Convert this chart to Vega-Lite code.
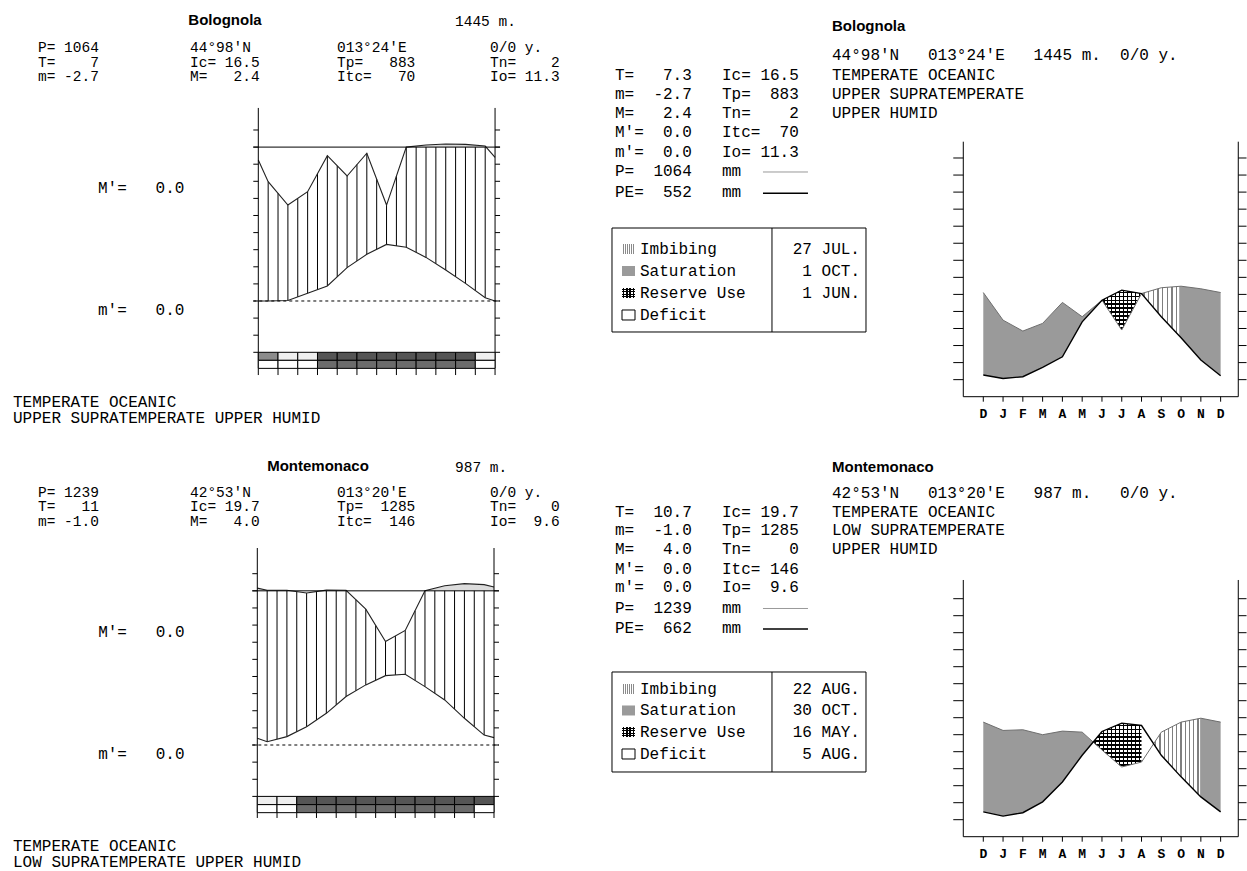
{
"$schema": "https://vega.github.io/schema/vega-lite/v6.json",
"padding": 0,
"spacing": 0,
"background": "white",
"config": {"view": {"stroke": null}, "axis": {"disable": true}, "legend": {"disable": true}},
"datasets": {
"ticks_a": [{"v":-30},{"v":-20},{"v":-10},{"v":0},{"v":10},{"v":20},{"v":30},{"v":40},{"v":50},{"v":60},{"v":70},{"v":80},{"v":90},{"v":100}],
"ticks_b": [{"v":10},{"v":20},{"v":30},{"v":40},{"v":50},{"v":60},{"v":70},{"v":80},{"v":90},{"v":100},{"v":110},{"v":120},{"v":130},{"v":140}],
"months13": [{"k":0,"lab":"D"},{"k":1,"lab":"J"},{"k":2,"lab":"F"},{"k":3,"lab":"M"},{"k":4,"lab":"A"},{"k":5,"lab":"M"},{"k":6,"lab":"J"},{"k":7,"lab":"J"},{"k":8,"lab":"A"},{"k":9,"lab":"S"},{"k":10,"lab":"O"},{"k":11,"lab":"N"},{"k":12,"lab":"D"}],
"edges": [{"k":0},{"k":12}],
"edges_r": [{"k":-1.011},{"k":12.892}],
"tl_curve": [{"k":0,"top":82.5,"bot":0},{"k":0.5,"top":69.8,"bot":0},{"k":1.5,"top":56.1,"bot":0.3},{"k":2.5,"top":63.9,"bot":4.5},{"k":3.5,"top":85.0,"bot":8.8},{"k":4.5,"top":73.1,"bot":19.5},{"k":5.5,"top":86.4,"bot":27.3},{"k":6.5,"top":56.1,"bot":33.1},{"k":7.5,"top":90.0,"bot":31.4},{"k":8.5,"top":91.2,"bot":25.5},{"k":9.5,"top":91.8,"bot":18.1},{"k":10.5,"top":91.6,"bot":10.3},{"k":11.5,"top":90.6,"bot":1.9},{"k":12,"top":84.0,"bot":0}],
"tl_over": [{"k":7.5,"v":90.0,"seg":"a"},{"k":8.5,"v":91.2,"seg":"a"},{"k":9.5,"v":91.8,"seg":"a"},{"k":10.5,"v":91.6,"seg":"a"},{"k":11.5,"v":90.6,"seg":"a"},{"k":11.55,"v":90,"seg":"a"}],
"tl_hatch": [{"k":0.5,"lo":0,"hi":69.8},{"k":1,"lo":0.15,"hi":63.0},{"k":1.5,"lo":0.3,"hi":56.1},{"k":2,"lo":2.4,"hi":60.0},{"k":2.5,"lo":4.5,"hi":63.9},{"k":3,"lo":6.6,"hi":74.5},{"k":3.5,"lo":8.8,"hi":85.0},{"k":4,"lo":14.1,"hi":79.0},{"k":4.5,"lo":19.5,"hi":73.1},{"k":5,"lo":23.4,"hi":79.8},{"k":5.5,"lo":27.3,"hi":86.4},{"k":6,"lo":30.2,"hi":71.2},{"k":6.5,"lo":33.1,"hi":56.1},{"k":7,"lo":32.2,"hi":73.0},{"k":7.5,"lo":31.4,"hi":90},{"k":8,"lo":28.4,"hi":90},{"k":8.5,"lo":25.5,"hi":90},{"k":9,"lo":21.8,"hi":90},{"k":9.5,"lo":18.1,"hi":90},{"k":10,"lo":14.2,"hi":90},{"k":10.5,"lo":10.3,"hi":90},{"k":11,"lo":6.1,"hi":90},{"k":11.5,"lo":1.9,"hi":90}],
"tl_strip": [
{"start":0,"end":1,"band":"upper","state":"grey"},{"start":1,"end":2,"band":"upper","state":"light"},{"start":2,"end":3,"band":"upper","state":"light"},{"start":3,"end":4,"band":"upper","state":"dark"},{"start":4,"end":5,"band":"upper","state":"dark"},{"start":5,"end":6,"band":"upper","state":"dark"},{"start":6,"end":7,"band":"upper","state":"dark"},{"start":7,"end":8,"band":"upper","state":"dark"},{"start":8,"end":9,"band":"upper","state":"dark"},{"start":9,"end":10,"band":"upper","state":"dark"},{"start":10,"end":11,"band":"upper","state":"dark"},{"start":11,"end":12,"band":"upper","state":"light"},
{"start":0,"end":1,"band":"lower","state":"none"},{"start":1,"end":2,"band":"lower","state":"none"},{"start":2,"end":3,"band":"lower","state":"none"},{"start":3,"end":4,"band":"lower","state":"mid"},{"start":4,"end":5,"band":"lower","state":"mid"},{"start":5,"end":6,"band":"lower","state":"mid"},{"start":6,"end":7,"band":"lower","state":"mid"},{"start":7,"end":8,"band":"lower","state":"mid"},{"start":8,"end":9,"band":"lower","state":"mid"},{"start":9,"end":10,"band":"lower","state":"mid"},{"start":10,"end":11,"band":"lower","state":"mid"},{"start":11,"end":12,"band":"lower","state":"none"}],
"tl_head": [
{"k":-11.166,"v":147.95,"t":"P=\u00a01064"},{"k":-11.166,"v":139.47,"t":"T=\u00a0\u00a0\u00a0\u00a07"},{"k":-11.166,"v":130.99,"t":"m=\u00a0-2.7"},
{"k":-3.462,"v":147.95,"t":"44°98'N"},{"k":-3.462,"v":139.47,"t":"Ic=\u00a016.5"},{"k":-3.462,"v":130.99,"t":"M=\u00a0\u00a0\u00a02.4"},
{"k":3.989,"v":147.95,"t":"013°24'E"},{"k":3.989,"v":139.47,"t":"Tp=\u00a0\u00a0\u00a0883"},{"k":3.989,"v":130.99,"t":"Itc=\u00a0\u00a0\u00a070"},
{"k":11.743,"v":147.95,"t":"0/0\u00a0y."},{"k":11.743,"v":139.47,"t":"Tn=\u00a0\u00a0\u00a0\u00a02"},{"k":11.743,"v":130.99,"t":"Io=\u00a011.3"},
{"k":9.97,"v":163.16,"t":"1445\u00a0m."}],
"tl_text": [
{"k":-8.125,"v":66.08,"t":"M'=\u00a0\u00a0\u00a00.0"},{"k":-8.125,"v":-5.26,"t":"m'=\u00a0\u00a0\u00a00.0"},
{"k":-12.433,"v":-59.06,"t":"TEMPERATE\u00a0OCEANIC"},{"k":-12.433,"v":-68.42,"t":"UPPER\u00a0SUPRATEMPERATE\u00a0UPPER\u00a0HUMID"}],
"bl_curve": [{"k":0,"top":91.6,"bot":3.9},{"k":0.5,"top":90.3,"bot":1.9},{"k":1.5,"top":90.3,"bot":4.9},{"k":2.5,"top":88.7,"bot":10.7},{"k":3.5,"top":90.4,"bot":18.5},{"k":4.5,"top":90.3,"bot":28.3},{"k":5.5,"top":79.3,"bot":35.1},{"k":6.5,"top":60.4,"bot":40.5},{"k":7.5,"top":66.9,"bot":41.3},{"k":8.5,"top":90.0,"bot":34.1},{"k":9.5,"top":93.0,"bot":26.3},{"k":10.5,"top":94.2,"bot":15.6},{"k":11.5,"top":93.6,"bot":5.8},{"k":12,"top":92.2,"bot":4.3}],
"bl_over": [{"k":0,"v":91.6,"seg":"a"},{"k":0.5,"v":90.3,"seg":"a"},{"k":1.5,"v":90.3,"seg":"a"},{"k":1.7,"v":90,"seg":"a"},{"k":8.5,"v":90.0,"seg":"b"},{"k":9.5,"v":93.0,"seg":"b"},{"k":10.5,"v":94.2,"seg":"b"},{"k":11.5,"v":93.6,"seg":"b"},{"k":12,"v":92.2,"seg":"b"}],
"bl_hatch": [{"k":0.5,"lo":1.9,"hi":90},{"k":1,"lo":3.4,"hi":90},{"k":1.5,"lo":4.9,"hi":90},{"k":2,"lo":7.8,"hi":89.5},{"k":2.5,"lo":10.7,"hi":88.7},{"k":3,"lo":14.6,"hi":89.5},{"k":3.5,"lo":18.5,"hi":90},{"k":4,"lo":23.4,"hi":90},{"k":4.5,"lo":28.3,"hi":90},{"k":5,"lo":31.7,"hi":84.8},{"k":5.5,"lo":35.1,"hi":79.3},{"k":6,"lo":37.8,"hi":69.8},{"k":6.5,"lo":40.5,"hi":60.4},{"k":7,"lo":40.9,"hi":63.6},{"k":7.5,"lo":41.3,"hi":66.9},{"k":8,"lo":37.7,"hi":78.4},{"k":8.5,"lo":34.1,"hi":90},{"k":9,"lo":30.2,"hi":90},{"k":9.5,"lo":26.3,"hi":90},{"k":10,"lo":21.0,"hi":90},{"k":10.5,"lo":15.6,"hi":90},{"k":11,"lo":10.7,"hi":90},{"k":11.5,"lo":5.8,"hi":90}],
"bl_strip": [
{"start":0,"end":1,"band":"upper","state":"light"},{"start":1,"end":2,"band":"upper","state":"light"},{"start":2,"end":3,"band":"upper","state":"dark"},{"start":3,"end":4,"band":"upper","state":"dark"},{"start":4,"end":5,"band":"upper","state":"dark"},{"start":5,"end":6,"band":"upper","state":"dark"},{"start":6,"end":7,"band":"upper","state":"dark"},{"start":7,"end":8,"band":"upper","state":"dark"},{"start":8,"end":9,"band":"upper","state":"dark"},{"start":9,"end":10,"band":"upper","state":"dark"},{"start":10,"end":11,"band":"upper","state":"dark"},{"start":11,"end":12,"band":"upper","state":"dark"},
{"start":0,"end":1,"band":"lower","state":"none"},{"start":1,"end":2,"band":"lower","state":"none"},{"start":2,"end":3,"band":"lower","state":"mid"},{"start":3,"end":4,"band":"lower","state":"mid"},{"start":4,"end":5,"band":"lower","state":"mid"},{"start":5,"end":6,"band":"lower","state":"mid"},{"start":6,"end":7,"band":"lower","state":"mid"},{"start":7,"end":8,"band":"lower","state":"mid"},{"start":8,"end":9,"band":"lower","state":"mid"},{"start":9,"end":10,"band":"lower","state":"mid"},{"start":10,"end":11,"band":"lower","state":"mid"},{"start":11,"end":12,"band":"lower","state":"none"}],
"bl_head": [
{"k":-11.118,"v":147.11,"t":"P=\u00a01239"},{"k":-11.118,"v":138.65,"t":"T=\u00a0\u00a0\u00a011"},{"k":-11.118,"v":130.18,"t":"m=\u00a0-1.0"},
{"k":-3.412,"v":147.11,"t":"42°53'N"},{"k":-3.412,"v":138.65,"t":"Ic=\u00a019.7"},{"k":-3.412,"v":130.18,"t":"M=\u00a0\u00a0\u00a04.0"},
{"k":4.041,"v":147.11,"t":"013°20'E"},{"k":4.041,"v":138.65,"t":"Tp=\u00a0\u00a01285"},{"k":4.041,"v":130.18,"t":"Itc=\u00a0\u00a0146"},
{"k":11.797,"v":147.11,"t":"0/0\u00a0y."},{"k":11.797,"v":138.65,"t":"Tn=\u00a0\u00a0\u00a0\u00a00"},{"k":11.797,"v":130.18,"t":"Io=\u00a0\u00a09.6"},
{"k":10.023,"v":161.7,"t":"987\u00a0m."}],
"bl_text": [
{"k":-8.07,"v":65.97,"t":"M'=\u00a0\u00a0\u00a00.0"},{"k":-8.07,"v":-5.25,"t":"m'=\u00a0\u00a0\u00a00.0"},
{"k":-12.385,"v":-58.96,"t":"TEMPERATE\u00a0OCEANIC"},{"k":-12.385,"v":-68.3,"t":"LOW\u00a0SUPRATEMPERATE\u00a0UPPER\u00a0HUMID"}],
"tr_pp": [{"k":0,"P":61.1,"PE":12.7},{"k":1,"P":44.9,"PE":10.7},{"k":2,"P":38.5,"PE":11.7},{"k":3,"P":43.0,"PE":17.2},{"k":4,"P":55.3,"PE":23.4},{"k":5,"P":46.9,"PE":43.9},{"k":6,"P":56.6,"PE":56.6},{"k":7,"P":39.1,"PE":62.5},{"k":8,"P":60.5,"PE":60.5},{"k":9,"P":63.9,"PE":46.9},{"k":10,"P":64.8,"PE":34.6},{"k":11,"P":63.3,"PE":21.5},{"k":12,"P":61.1,"PE":12.3}],
"tr_sat": [{"k":0,"P":61.1,"PE":12.7,"seg":"a"},{"k":1,"P":44.9,"PE":10.7,"seg":"a"},{"k":2,"P":38.5,"PE":11.7,"seg":"a"},{"k":3,"P":43.0,"PE":17.2,"seg":"a"},{"k":4,"P":55.3,"PE":23.4,"seg":"a"},{"k":5,"P":46.9,"PE":43.9,"seg":"a"},{"k":6,"P":56.6,"PE":56.6,"seg":"a"},{"k":9.9,"P":64.7,"PE":35.8,"seg":"b"},{"k":10,"P":64.8,"PE":34.6,"seg":"b"},{"k":11,"P":63.3,"PE":21.5,"seg":"b"},{"k":12,"P":61.1,"PE":12.3,"seg":"b"}],
"tr_res": [{"k":6,"P":56.6,"PE":56.6},{"k":7,"P":39.1,"PE":62.5},{"k":8,"P":60.5,"PE":60.5}],
"tr_imb": [{"k":8,"P":60.5,"PE":60.5},{"k":9,"P":63.9,"PE":46.9},{"k":9.9,"P":64.7,"PE":35.8}],
"tr_text": [
{"k":-7.649,"v":200.41,"t":"44°98'N\u00a0\u00a0\u00a0013°24'E\u00a0\u00a0\u00a01445\u00a0m.\u00a0\u00a00/0\u00a0y."},
{"k":-7.649,"v":188.68,"t":"TEMPERATE\u00a0OCEANIC"},{"k":-7.649,"v":177.54,"t":"UPPER\u00a0SUPRATEMPERATE"},{"k":-7.649,"v":166.39,"t":"UPPER\u00a0HUMID"},
{"k":-18.62,"v":188.68,"t":"T=\u00a0\u00a0\u00a07.3"},{"k":-18.62,"v":177.54,"t":"m=\u00a0\u00a0-2.7"},{"k":-18.62,"v":166.39,"t":"M=\u00a0\u00a0\u00a02.4"},{"k":-18.62,"v":155.25,"t":"M'=\u00a0\u00a00.0"},{"k":-18.62,"v":143.81,"t":"m'=\u00a0\u00a00.0"},{"k":-18.62,"v":132.38,"t":"P=\u00a0\u00a01064"},{"k":-18.62,"v":120.35,"t":"PE=\u00a0\u00a0552"},
{"k":-13.21,"v":188.68,"t":"Ic=\u00a016.5"},{"k":-13.21,"v":177.54,"t":"Tp=\u00a0\u00a0883"},{"k":-13.21,"v":166.39,"t":"Tn=\u00a0\u00a0\u00a0\u00a02"},{"k":-13.21,"v":155.25,"t":"Itc=\u00a0\u00a070"},{"k":-13.21,"v":143.81,"t":"Io=\u00a011.3"},{"k":-13.21,"v":132.38,"t":"mm"},{"k":-13.21,"v":120.35,"t":"mm"},
{"k":-17.356,"v":86.63,"t":"Imbibing"},{"k":-17.356,"v":73.72,"t":"Saturation"},{"k":-17.356,"v":60.82,"t":"Reserve\u00a0Use"},{"k":-17.356,"v":47.92,"t":"Deficit"}],
"tr_dates": [{"k":-6.234,"v":86.63,"t":"27\u00a0JUL."},{"k":-6.234,"v":73.72,"t":"1\u00a0OCT."},{"k":-6.234,"v":60.82,"t":"1\u00a0JUN."}],
"br_pp": [{"k":0,"P":67.4,"PE":14.6},{"k":1,"P":62.5,"PE":12.1},{"k":2,"P":62.9,"PE":14.1},{"k":3,"P":60.0,"PE":20.5},{"k":4,"P":62.1,"PE":32.2},{"k":5,"P":61.5,"PE":47.9},{"k":6,"P":51.0,"PE":61.9},{"k":7,"P":41.0,"PE":66.8},{"k":8,"P":43.9,"PE":65.4},{"k":9,"P":61.5,"PE":47.9},{"k":10,"P":67.4,"PE":35.2},{"k":11,"P":69.7,"PE":23.4},{"k":12,"P":67.4,"PE":14.6}],
"br_sat": [{"k":0,"P":67.4,"PE":14.6,"seg":"a"},{"k":1,"P":62.5,"PE":12.1,"seg":"a"},{"k":2,"P":62.9,"PE":14.1,"seg":"a"},{"k":3,"P":60.0,"PE":20.5,"seg":"a"},{"k":4,"P":62.1,"PE":32.2,"seg":"a"},{"k":5,"P":61.5,"PE":47.9,"seg":"a"},{"k":5.55,"P":55.6,"PE":55.6,"seg":"a"},{"k":10.96,"P":69.6,"PE":23.9,"seg":"b"},{"k":11,"P":69.7,"PE":23.4,"seg":"b"},{"k":12,"P":67.4,"PE":14.6,"seg":"b"}],
"br_res": [{"k":5.55,"P":55.6,"PE":55.6},{"k":6,"P":51.0,"PE":61.9},{"k":7,"P":41.0,"PE":66.8},{"k":8,"P":43.9,"PE":65.4}],
"br_imb": [{"k":8.61,"P":54.7,"PE":54.7},{"k":9,"P":61.5,"PE":47.9},{"k":10,"P":67.4,"PE":35.2},{"k":10.96,"P":69.6,"PE":23.9}],
"br_text": [
{"k":-7.649,"v":202.18,"t":"42°53'N\u00a0\u00a0\u00a0013°20'E\u00a0\u00a0\u00a0987\u00a0m.\u00a0\u00a0\u00a00/0\u00a0y."},
{"k":-7.649,"v":191.29,"t":"TEMPERATE\u00a0OCEANIC"},{"k":-7.649,"v":180.12,"t":"LOW\u00a0SUPRATEMPERATE"},{"k":-7.649,"v":168.94,"t":"UPPER\u00a0HUMID"},
{"k":-18.62,"v":191.29,"t":"T=\u00a0\u00a010.7"},{"k":-18.62,"v":180.12,"t":"m=\u00a0\u00a0-1.0"},{"k":-18.62,"v":168.94,"t":"M=\u00a0\u00a0\u00a04.0"},{"k":-18.62,"v":157.76,"t":"M'=\u00a0\u00a00.0"},{"k":-18.62,"v":146.59,"t":"m'=\u00a0\u00a00.0"},{"k":-18.62,"v":134.82,"t":"P=\u00a0\u00a01239"},{"k":-18.62,"v":122.76,"t":"PE=\u00a0\u00a0662"},
{"k":-13.21,"v":191.29,"t":"Ic=\u00a019.7"},{"k":-13.21,"v":180.12,"t":"Tp=\u00a01285"},{"k":-13.21,"v":168.94,"t":"Tn=\u00a0\u00a0\u00a0\u00a00"},{"k":-13.21,"v":157.76,"t":"Itc=\u00a0146"},{"k":-13.21,"v":146.59,"t":"Io=\u00a0\u00a09.6"},{"k":-13.21,"v":134.82,"t":"mm"},{"k":-13.21,"v":122.76,"t":"mm"},
{"k":-17.356,"v":86.88,"t":"Imbibing"},{"k":-17.356,"v":74.24,"t":"Saturation"},{"k":-17.356,"v":61.59,"t":"Reserve\u00a0Use"},{"k":-17.356,"v":48.65,"t":"Deficit"}],
"br_dates": [{"k":-6.234,"v":86.88,"t":"22\u00a0AUG."},{"k":-6.234,"v":74.24,"t":"30\u00a0OCT."},{"k":-6.234,"v":61.59,"t":"16\u00a0MAY."},{"k":-6.234,"v":48.65,"t":"5\u00a0AUG."}]
},
"vconcat": [
{"hconcat": [
{"width": 600, "height": 440,
 "layer": [
  {"data":{"name":"tl_over"},"mark":{"type":"area","fill":"#dcdcdc","stroke":null},"encoding":{"x":{"field":"k","type":"quantitative","scale":{"domain":[-13.092,17.319],"nice":false,"zero":false}},"y":{"field":"v","type":"quantitative","scale":{"domain":[-81.287,176.023],"nice":false,"zero":false}},"y2":{"datum":90},"detail":{"field":"seg"}}},
  {"data":{"name":"tl_hatch"},"mark":{"type":"rule","stroke":"#000","strokeWidth":1},"encoding":{"x":{"field":"k","type":"quantitative"},"y":{"field":"lo","type":"quantitative"},"y2":{"field":"hi"}}},
  {"data":{"name":"tl_curve"},"mark":{"type":"line","stroke":"#222","strokeWidth":1.1},"encoding":{"x":{"field":"k","type":"quantitative"},"y":{"field":"top","type":"quantitative"}}},
  {"data":{"name":"tl_curve"},"mark":{"type":"line","stroke":"#222","strokeWidth":1.1},"encoding":{"x":{"field":"k","type":"quantitative"},"y":{"field":"bot","type":"quantitative"}}},
  {"data":{"values":[{}]},"mark":{"type":"rule","stroke":"#000","strokeWidth":1},"encoding":{"x":{"datum":-0.253},"x2":{"datum":12.253},"y":{"datum":90}}},
  {"data":{"values":[{}]},"mark":{"type":"rule","stroke":"#000","strokeWidth":1,"strokeDash":[3,3]},"encoding":{"x":{"datum":-0.253},"x2":{"datum":12.253},"y":{"datum":0}}},
  {"data":{"name":"edges"},"mark":{"type":"rule","stroke":"#000","strokeWidth":1},"encoding":{"x":{"field":"k","type":"quantitative"},"y":{"datum":112.9},"y2":{"datum":-39.4}}},
  {"data":{"name":"ticks_a"},"mark":{"type":"rule","stroke":"#000","strokeWidth":1},"encoding":{"x":{"datum":-0.253},"x2":{"datum":0},"y":{"field":"v","type":"quantitative"}}},
  {"data":{"name":"ticks_a"},"mark":{"type":"rule","stroke":"#000","strokeWidth":1},"encoding":{"x":{"datum":12},"x2":{"datum":12.253},"y":{"field":"v","type":"quantitative"}}},
  {"data":{"name":"tl_strip"},"transform":[{"filter":"datum.band === 'upper'"}],"mark":{"type":"rect","stroke":"#000","strokeWidth":1},"encoding":{"x":{"field":"start","type":"quantitative"},"x2":{"field":"end"},"y":{"datum":-30},"y2":{"datum":-34.7},"fill":{"field":"state","type":"nominal","scale":{"domain":["grey","light","dark","none","mid"],"range":["#8c8c8c","#efefef","#555555","#ffffff","#6b6b6b"]},"legend":null}}},
  {"data":{"name":"tl_strip"},"transform":[{"filter":"datum.band === 'lower'"}],"mark":{"type":"rect","stroke":"#000","strokeWidth":1},"encoding":{"x":{"field":"start","type":"quantitative"},"x2":{"field":"end"},"y":{"datum":-34.7},"y2":{"datum":-39.4},"fill":{"field":"state","type":"nominal","scale":{"domain":["grey","light","dark","none","mid"],"range":["#8c8c8c","#efefef","#555555","#ffffff","#6b6b6b"]},"legend":null}}},
  {"data":{"name":"months13"},"mark":{"type":"rule","stroke":"#000","strokeWidth":1},"encoding":{"x":{"field":"k","type":"quantitative"},"y":{"datum":-39.4},"y2":{"datum":-43.3}}},
  {"data":{"name":"tl_head"},"mark":{"type":"text","align":"left","baseline":"middle","font":"Liberation Mono","fontSize":14.5,"fill":"#000"},"encoding":{"x":{"field":"k","type":"quantitative"},"y":{"field":"v","type":"quantitative"},"text":{"field":"t"}}},
  {"data":{"name":"tl_text"},"mark":{"type":"text","align":"left","baseline":"middle","font":"Liberation Mono","fontSize":16,"fill":"#000"},"encoding":{"x":{"field":"k","type":"quantitative"},"y":{"field":"v","type":"quantitative"},"text":{"field":"t"}}},
  {"data":{"values":[{"k":-1.688,"v":164.33,"t":"Bolognola"}]},"mark":{"type":"text","align":"center","baseline":"middle","font":"Liberation Sans","fontSize":15,"fontWeight":"bold","fill":"#000"},"encoding":{"x":{"field":"k","type":"quantitative"},"y":{"field":"v","type":"quantitative"},"text":{"field":"t"}}}
 ]},
{"width": 647, "height": 440,
 "layer": [
  {"data":{"name":"tr_sat"},"mark":{"type":"area","fill":"#9a9a9a","stroke":null},"encoding":{"x":{"field":"k","type":"quantitative","scale":{"domain":[-19.378,13.333],"nice":false,"zero":false}},"y":{"field":"P","type":"quantitative","scale":{"domain":[-25.4,232.67],"nice":false,"zero":false}},"y2":{"field":"PE"},"detail":{"field":"seg"}}},
  {"data":{"name":"tr_res"},"mark":{"type":"area","stroke":null,"fill":{"gradient":"linear","x1":0,"y1":0,"x2":1,"y2":0,"stops":[
   {"offset":0.035,"color":"#fff"},{"offset":0.035,"color":"#000"},{"offset":0.065,"color":"#000"},{"offset":0.065,"color":"#fff"},
   {"offset":0.135,"color":"#fff"},{"offset":0.135,"color":"#000"},{"offset":0.165,"color":"#000"},{"offset":0.165,"color":"#fff"},
   {"offset":0.235,"color":"#fff"},{"offset":0.235,"color":"#000"},{"offset":0.265,"color":"#000"},{"offset":0.265,"color":"#fff"},
   {"offset":0.335,"color":"#fff"},{"offset":0.335,"color":"#000"},{"offset":0.365,"color":"#000"},{"offset":0.365,"color":"#fff"},
   {"offset":0.435,"color":"#fff"},{"offset":0.435,"color":"#000"},{"offset":0.465,"color":"#000"},{"offset":0.465,"color":"#fff"},
   {"offset":0.535,"color":"#fff"},{"offset":0.535,"color":"#000"},{"offset":0.565,"color":"#000"},{"offset":0.565,"color":"#fff"},
   {"offset":0.635,"color":"#fff"},{"offset":0.635,"color":"#000"},{"offset":0.665,"color":"#000"},{"offset":0.665,"color":"#fff"},
   {"offset":0.735,"color":"#fff"},{"offset":0.735,"color":"#000"},{"offset":0.765,"color":"#000"},{"offset":0.765,"color":"#fff"},
   {"offset":0.835,"color":"#fff"},{"offset":0.835,"color":"#000"},{"offset":0.865,"color":"#000"},{"offset":0.865,"color":"#fff"},
   {"offset":0.935,"color":"#fff"},{"offset":0.935,"color":"#000"},{"offset":0.965,"color":"#000"},{"offset":0.965,"color":"#fff"}]}},
   "encoding":{"x":{"field":"k","type":"quantitative"},"y":{"field":"P","type":"quantitative"},"y2":{"field":"PE"}}},
  {"data":{"name":"tr_res"},"mark":{"type":"area","stroke":null,"fill":{"gradient":"linear","x1":0,"y1":0,"x2":0,"y2":1,"stops":[
   {"offset":0.035,"color":"rgba(0,0,0,0)"},{"offset":0.035,"color":"#000"},{"offset":0.065,"color":"#000"},{"offset":0.065,"color":"rgba(0,0,0,0)"},
   {"offset":0.135,"color":"rgba(0,0,0,0)"},{"offset":0.135,"color":"#000"},{"offset":0.165,"color":"#000"},{"offset":0.165,"color":"rgba(0,0,0,0)"},
   {"offset":0.235,"color":"rgba(0,0,0,0)"},{"offset":0.235,"color":"#000"},{"offset":0.265,"color":"#000"},{"offset":0.265,"color":"rgba(0,0,0,0)"},
   {"offset":0.335,"color":"rgba(0,0,0,0)"},{"offset":0.335,"color":"#000"},{"offset":0.365,"color":"#000"},{"offset":0.365,"color":"rgba(0,0,0,0)"},
   {"offset":0.435,"color":"rgba(0,0,0,0)"},{"offset":0.435,"color":"#000"},{"offset":0.465,"color":"#000"},{"offset":0.465,"color":"rgba(0,0,0,0)"},
   {"offset":0.535,"color":"rgba(0,0,0,0)"},{"offset":0.535,"color":"#000"},{"offset":0.565,"color":"#000"},{"offset":0.565,"color":"rgba(0,0,0,0)"},
   {"offset":0.635,"color":"rgba(0,0,0,0)"},{"offset":0.635,"color":"#000"},{"offset":0.665,"color":"#000"},{"offset":0.665,"color":"rgba(0,0,0,0)"},
   {"offset":0.735,"color":"rgba(0,0,0,0)"},{"offset":0.735,"color":"#000"},{"offset":0.765,"color":"#000"},{"offset":0.765,"color":"rgba(0,0,0,0)"},
   {"offset":0.835,"color":"rgba(0,0,0,0)"},{"offset":0.835,"color":"#000"},{"offset":0.865,"color":"#000"},{"offset":0.865,"color":"rgba(0,0,0,0)"},
   {"offset":0.935,"color":"rgba(0,0,0,0)"},{"offset":0.935,"color":"#000"},{"offset":0.965,"color":"#000"},{"offset":0.965,"color":"rgba(0,0,0,0)"}]}},
   "encoding":{"x":{"field":"k","type":"quantitative"},"y":{"field":"P","type":"quantitative"},"y2":{"field":"PE"}}},
  {"data":{"name":"tr_imb"},"mark":{"type":"area","stroke":null,"fill":{"gradient":"linear","x1":0,"y1":0,"x2":1,"y2":0,"stops":[
   {"offset":0.0438,"color":"#fff"},{"offset":0.0438,"color":"#7f7f7f"},{"offset":0.0813,"color":"#7f7f7f"},{"offset":0.0813,"color":"#fff"},
   {"offset":0.1688,"color":"#fff"},{"offset":0.1688,"color":"#7f7f7f"},{"offset":0.2063,"color":"#7f7f7f"},{"offset":0.2063,"color":"#fff"},
   {"offset":0.2938,"color":"#fff"},{"offset":0.2938,"color":"#7f7f7f"},{"offset":0.3313,"color":"#7f7f7f"},{"offset":0.3313,"color":"#fff"},
   {"offset":0.4188,"color":"#fff"},{"offset":0.4188,"color":"#7f7f7f"},{"offset":0.4563,"color":"#7f7f7f"},{"offset":0.4563,"color":"#fff"},
   {"offset":0.5438,"color":"#fff"},{"offset":0.5438,"color":"#7f7f7f"},{"offset":0.5813,"color":"#7f7f7f"},{"offset":0.5813,"color":"#fff"},
   {"offset":0.6688,"color":"#fff"},{"offset":0.6688,"color":"#7f7f7f"},{"offset":0.7063,"color":"#7f7f7f"},{"offset":0.7063,"color":"#fff"},
   {"offset":0.7938,"color":"#fff"},{"offset":0.7938,"color":"#7f7f7f"},{"offset":0.8313,"color":"#7f7f7f"},{"offset":0.8313,"color":"#fff"},
   {"offset":0.9188,"color":"#fff"},{"offset":0.9188,"color":"#7f7f7f"},{"offset":0.9563,"color":"#7f7f7f"},{"offset":0.9563,"color":"#fff"}]}},
   "encoding":{"x":{"field":"k","type":"quantitative"},"y":{"field":"P","type":"quantitative"},"y2":{"field":"PE"}}},
  {"data":{"name":"tr_pp"},"mark":{"type":"line","stroke":"#6e6e6e","strokeWidth":1},"encoding":{"x":{"field":"k","type":"quantitative"},"y":{"field":"P","type":"quantitative"}}},
  {"data":{"name":"tr_pp"},"mark":{"type":"line","stroke":"#000","strokeWidth":1.4},"encoding":{"x":{"field":"k","type":"quantitative"},"y":{"field":"PE","type":"quantitative"}}},
  {"data":{"name":"edges_r"},"mark":{"type":"rule","stroke":"#000","strokeWidth":1},"encoding":{"x":{"field":"k","type":"quantitative"},"y":{"datum":149.56},"y2":{"datum":0}}},
  {"data":{"values":[{}]},"mark":{"type":"rule","stroke":"#000","strokeWidth":1},"encoding":{"x":{"datum":-1.011},"x2":{"datum":12.892},"y":{"datum":0}}},
  {"data":{"name":"ticks_b"},"mark":{"type":"rule","stroke":"#000","strokeWidth":1},"encoding":{"x":{"datum":-1.517},"x2":{"datum":-1.011},"y":{"field":"v","type":"quantitative"}}},
  {"data":{"name":"ticks_b"},"mark":{"type":"rule","stroke":"#000","strokeWidth":1},"encoding":{"x":{"datum":12.892},"x2":{"datum":13.31},"y":{"field":"v","type":"quantitative"}}},
  {"data":{"name":"months13"},"mark":{"type":"rule","stroke":"#000","strokeWidth":1},"encoding":{"x":{"field":"k","type":"quantitative"},"y":{"datum":0},"y2":{"datum":-2.93}}},
  {"data":{"name":"months13"},"mark":{"type":"text","align":"center","baseline":"middle","font":"Liberation Mono","fontSize":13,"fontWeight":"bold","fill":"#000"},"encoding":{"x":{"field":"k","type":"quantitative"},"y":{"datum":-10.15},"text":{"field":"lab"}}},
  {"data":{"values":[{}]},"mark":{"type":"rect","fillOpacity":0,"stroke":"#000","strokeWidth":1},"encoding":{"x":{"datum":-18.772},"x2":{"datum":-5.93},"y":{"datum":98.94},"y2":{"datum":37.95}}},
  {"data":{"values":[{}]},"mark":{"type":"rule","stroke":"#000","strokeWidth":1},"encoding":{"x":{"datum":-10.683},"y":{"datum":98.94},"y2":{"datum":37.95}}},
  {"data":{"values":[{"v":131.79}]},"mark":{"type":"rule","stroke":"#999","strokeWidth":1},"encoding":{"x":{"datum":-11.138},"x2":{"datum":-8.863},"y":{"field":"v","type":"quantitative"}}},
  {"data":{"values":[{"v":119.3}]},"mark":{"type":"rule","stroke":"#000","strokeWidth":1.4},"encoding":{"x":{"datum":-11.138},"x2":{"datum":-8.863},"y":{"field":"v","type":"quantitative"}}},
  {"data":{"values":[{"k":-17.937,"v":86.63}]},"mark":{"type":"point","shape":"M-1.3,-1L1.3,-1L1.3,1L-1.3,1Z","size":100,"filled":true,"opacity":1,"strokeWidth":0,"fill":{"gradient":"linear","x1":0,"y1":0,"x2":1,"y2":0,"stops":[
   {"offset":0.0417,"color":"#fff"},{"offset":0.0417,"color":"#8a8a8a"},{"offset":0.125,"color":"#8a8a8a"},{"offset":0.125,"color":"#fff"},
   {"offset":0.2083,"color":"#fff"},{"offset":0.2083,"color":"#8a8a8a"},{"offset":0.2917,"color":"#8a8a8a"},{"offset":0.2917,"color":"#fff"},
   {"offset":0.375,"color":"#fff"},{"offset":0.375,"color":"#8a8a8a"},{"offset":0.4583,"color":"#8a8a8a"},{"offset":0.4583,"color":"#fff"},
   {"offset":0.5417,"color":"#fff"},{"offset":0.5417,"color":"#8a8a8a"},{"offset":0.625,"color":"#8a8a8a"},{"offset":0.625,"color":"#fff"},
   {"offset":0.7083,"color":"#fff"},{"offset":0.7083,"color":"#8a8a8a"},{"offset":0.7917,"color":"#8a8a8a"},{"offset":0.7917,"color":"#fff"},
   {"offset":0.875,"color":"#fff"},{"offset":0.875,"color":"#8a8a8a"},{"offset":0.9583,"color":"#8a8a8a"},{"offset":0.9583,"color":"#fff"}]}},
   "encoding":{"x":{"field":"k","type":"quantitative"},"y":{"field":"v","type":"quantitative"}}},
  {"data":{"values":[{"k":-17.937,"v":73.72}]},"mark":{"type":"point","shape":"M-1.3,-1L1.3,-1L1.3,1L-1.3,1Z","size":100,"filled":true,"opacity":1,"strokeWidth":0,"fill":"#9a9a9a"},"encoding":{"x":{"field":"k","type":"quantitative"},"y":{"field":"v","type":"quantitative"}}},
  {"data":{"values":[{"k":-17.937,"v":60.82}]},"mark":{"type":"point","shape":"M-1.3,-1L1.3,-1L1.3,1L-1.3,1Z","size":100,"filled":true,"opacity":1,"strokeWidth":0,"fill":{"gradient":"linear","x1":0,"y1":0,"x2":1,"y2":0,"stops":[
   {"offset":0.075,"color":"#fff"},{"offset":0.075,"color":"#000"},{"offset":0.175,"color":"#000"},{"offset":0.175,"color":"#fff"},
   {"offset":0.325,"color":"#fff"},{"offset":0.325,"color":"#000"},{"offset":0.425,"color":"#000"},{"offset":0.425,"color":"#fff"},
   {"offset":0.575,"color":"#fff"},{"offset":0.575,"color":"#000"},{"offset":0.675,"color":"#000"},{"offset":0.675,"color":"#fff"},
   {"offset":0.825,"color":"#fff"},{"offset":0.825,"color":"#000"},{"offset":0.925,"color":"#000"},{"offset":0.925,"color":"#fff"}]}},
   "encoding":{"x":{"field":"k","type":"quantitative"},"y":{"field":"v","type":"quantitative"}}},
  {"data":{"values":[{"k":-17.937,"v":60.82}]},"mark":{"type":"point","shape":"M-1.3,-1L1.3,-1L1.3,1L-1.3,1Z","size":100,"filled":true,"opacity":1,"strokeWidth":0,"fill":{"gradient":"linear","x1":0,"y1":0,"x2":0,"y2":1,"stops":[
   {"offset":0.075,"color":"rgba(0,0,0,0)"},{"offset":0.075,"color":"#000"},{"offset":0.175,"color":"#000"},{"offset":0.175,"color":"rgba(0,0,0,0)"},
   {"offset":0.325,"color":"rgba(0,0,0,0)"},{"offset":0.325,"color":"#000"},{"offset":0.425,"color":"#000"},{"offset":0.425,"color":"rgba(0,0,0,0)"},
   {"offset":0.575,"color":"rgba(0,0,0,0)"},{"offset":0.575,"color":"#000"},{"offset":0.675,"color":"#000"},{"offset":0.675,"color":"rgba(0,0,0,0)"},
   {"offset":0.825,"color":"rgba(0,0,0,0)"},{"offset":0.825,"color":"#000"},{"offset":0.925,"color":"#000"},{"offset":0.925,"color":"rgba(0,0,0,0)"}]}},
   "encoding":{"x":{"field":"k","type":"quantitative"},"y":{"field":"v","type":"quantitative"}}},
  {"data":{"values":[{"k":-17.937,"v":47.92}]},"mark":{"type":"point","shape":"M-1.3,-1L1.3,-1L1.3,1L-1.3,1Z","size":100,"filled":true,"opacity":1,"fill":"#fff","stroke":"#000","strokeWidth":1},"encoding":{"x":{"field":"k","type":"quantitative"},"y":{"field":"v","type":"quantitative"}}},
  {"data":{"name":"tr_text"},"mark":{"type":"text","align":"left","baseline":"middle","font":"Liberation Mono","fontSize":16,"fill":"#000"},"encoding":{"x":{"field":"k","type":"quantitative"},"y":{"field":"v","type":"quantitative"},"text":{"field":"t"}}},
  {"data":{"name":"tr_dates"},"mark":{"type":"text","align":"right","baseline":"middle","font":"Liberation Mono","fontSize":16,"fill":"#000"},"encoding":{"x":{"field":"k","type":"quantitative"},"y":{"field":"v","type":"quantitative"},"text":{"field":"t"}}},
  {"data":{"values":[{"k":-7.649,"v":217.42,"t":"Bolognola"}]},"mark":{"type":"text","align":"left","baseline":"middle","font":"Liberation Sans","fontSize":15,"fontWeight":"bold","fill":"#000"},"encoding":{"x":{"field":"k","type":"quantitative"},"y":{"field":"v","type":"quantitative"},"text":{"field":"t"}}}
 ]}
], "spacing": 0},
{"hconcat": [
{"width": 600, "height": 431,
 "layer": [
  {"data":{"name":"bl_over"},"mark":{"type":"area","fill":"#dcdcdc","stroke":null},"encoding":{"x":{"field":"k","type":"quantitative","scale":{"domain":[-13.045,17.374],"nice":false,"zero":false}},"y":{"field":"v","type":"quantitative","scale":{"domain":[-73.55,178.05],"nice":false,"zero":false}},"y2":{"datum":90},"detail":{"field":"seg"}}},
  {"data":{"name":"bl_hatch"},"mark":{"type":"rule","stroke":"#000","strokeWidth":1},"encoding":{"x":{"field":"k","type":"quantitative"},"y":{"field":"lo","type":"quantitative"},"y2":{"field":"hi"}}},
  {"data":{"name":"bl_curve"},"mark":{"type":"line","stroke":"#222","strokeWidth":1.1},"encoding":{"x":{"field":"k","type":"quantitative"},"y":{"field":"top","type":"quantitative"}}},
  {"data":{"name":"bl_curve"},"mark":{"type":"line","stroke":"#222","strokeWidth":1.1},"encoding":{"x":{"field":"k","type":"quantitative"},"y":{"field":"bot","type":"quantitative"}}},
  {"data":{"values":[{}]},"mark":{"type":"rule","stroke":"#000","strokeWidth":1},"encoding":{"x":{"datum":-0.253},"x2":{"datum":12.253},"y":{"datum":90}}},
  {"data":{"values":[{}]},"mark":{"type":"rule","stroke":"#000","strokeWidth":1,"strokeDash":[3,3]},"encoding":{"x":{"datum":-0.253},"x2":{"datum":12.253},"y":{"datum":0}}},
  {"data":{"name":"edges"},"mark":{"type":"rule","stroke":"#000","strokeWidth":1},"encoding":{"x":{"field":"k","type":"quantitative"},"y":{"datum":115.0},"y2":{"datum":-39.5}}},
  {"data":{"name":"ticks_a"},"mark":{"type":"rule","stroke":"#000","strokeWidth":1},"encoding":{"x":{"datum":-0.253},"x2":{"datum":0},"y":{"field":"v","type":"quantitative"}}},
  {"data":{"name":"ticks_a"},"mark":{"type":"rule","stroke":"#000","strokeWidth":1},"encoding":{"x":{"datum":12},"x2":{"datum":12.253},"y":{"field":"v","type":"quantitative"}}},
  {"data":{"name":"bl_strip"},"transform":[{"filter":"datum.band === 'upper'"}],"mark":{"type":"rect","stroke":"#000","strokeWidth":1},"encoding":{"x":{"field":"start","type":"quantitative"},"x2":{"field":"end"},"y":{"datum":-30},"y2":{"datum":-34.8},"fill":{"field":"state","type":"nominal","scale":{"domain":["grey","light","dark","none","mid"],"range":["#8c8c8c","#efefef","#555555","#ffffff","#6b6b6b"]},"legend":null}}},
  {"data":{"name":"bl_strip"},"transform":[{"filter":"datum.band === 'lower'"}],"mark":{"type":"rect","stroke":"#000","strokeWidth":1},"encoding":{"x":{"field":"start","type":"quantitative"},"x2":{"field":"end"},"y":{"datum":-34.8},"y2":{"datum":-39.5},"fill":{"field":"state","type":"nominal","scale":{"domain":["grey","light","dark","none","mid"],"range":["#8c8c8c","#efefef","#555555","#ffffff","#6b6b6b"]},"legend":null}}},
  {"data":{"name":"months13"},"mark":{"type":"rule","stroke":"#000","strokeWidth":1},"encoding":{"x":{"field":"k","type":"quantitative"},"y":{"datum":-39.5},"y2":{"datum":-42.6}}},
  {"data":{"name":"bl_head"},"mark":{"type":"text","align":"left","baseline":"middle","font":"Liberation Mono","fontSize":14.5,"fill":"#000"},"encoding":{"x":{"field":"k","type":"quantitative"},"y":{"field":"v","type":"quantitative"},"text":{"field":"t"}}},
  {"data":{"name":"bl_text"},"mark":{"type":"text","align":"left","baseline":"middle","font":"Liberation Mono","fontSize":16,"fill":"#000"},"encoding":{"x":{"field":"k","type":"quantitative"},"y":{"field":"v","type":"quantitative"},"text":{"field":"t"}}},
  {"data":{"values":[{"k":3.077,"v":162.87,"t":"Montemonaco"}]},"mark":{"type":"text","align":"center","baseline":"middle","font":"Liberation Sans","fontSize":15,"fontWeight":"bold","fill":"#000"},"encoding":{"x":{"field":"k","type":"quantitative"},"y":{"field":"v","type":"quantitative"},"text":{"field":"t"}}}
 ]},
{"width": 647, "height": 431,
 "layer": [
  {"data":{"name":"br_sat"},"mark":{"type":"area","fill":"#9a9a9a","stroke":null},"encoding":{"x":{"field":"k","type":"quantitative","scale":{"domain":[-19.378,13.333],"nice":false,"zero":false}},"y":{"field":"P","type":"quantitative","scale":{"domain":[-20.18,233.35],"nice":false,"zero":false}},"y2":{"field":"PE"},"detail":{"field":"seg"}}},
  {"data":{"name":"br_res"},"mark":{"type":"area","stroke":null,"fill":{"gradient":"linear","x1":0,"y1":0,"x2":1,"y2":0,"stops":[
   {"offset":0.0292,"color":"#fff"},{"offset":0.0292,"color":"#000"},{"offset":0.0542,"color":"#000"},{"offset":0.0542,"color":"#fff"},
   {"offset":0.1125,"color":"#fff"},{"offset":0.1125,"color":"#000"},{"offset":0.1375,"color":"#000"},{"offset":0.1375,"color":"#fff"},
   {"offset":0.1958,"color":"#fff"},{"offset":0.1958,"color":"#000"},{"offset":0.2208,"color":"#000"},{"offset":0.2208,"color":"#fff"},
   {"offset":0.2792,"color":"#fff"},{"offset":0.2792,"color":"#000"},{"offset":0.3042,"color":"#000"},{"offset":0.3042,"color":"#fff"},
   {"offset":0.3625,"color":"#fff"},{"offset":0.3625,"color":"#000"},{"offset":0.3875,"color":"#000"},{"offset":0.3875,"color":"#fff"},
   {"offset":0.4458,"color":"#fff"},{"offset":0.4458,"color":"#000"},{"offset":0.4708,"color":"#000"},{"offset":0.4708,"color":"#fff"},
   {"offset":0.5292,"color":"#fff"},{"offset":0.5292,"color":"#000"},{"offset":0.5542,"color":"#000"},{"offset":0.5542,"color":"#fff"},
   {"offset":0.6125,"color":"#fff"},{"offset":0.6125,"color":"#000"},{"offset":0.6375,"color":"#000"},{"offset":0.6375,"color":"#fff"},
   {"offset":0.6958,"color":"#fff"},{"offset":0.6958,"color":"#000"},{"offset":0.7208,"color":"#000"},{"offset":0.7208,"color":"#fff"},
   {"offset":0.7792,"color":"#fff"},{"offset":0.7792,"color":"#000"},{"offset":0.8042,"color":"#000"},{"offset":0.8042,"color":"#fff"},
   {"offset":0.8625,"color":"#fff"},{"offset":0.8625,"color":"#000"},{"offset":0.8875,"color":"#000"},{"offset":0.8875,"color":"#fff"},
   {"offset":0.9458,"color":"#fff"},{"offset":0.9458,"color":"#000"},{"offset":0.9708,"color":"#000"},{"offset":0.9708,"color":"#fff"}]}},
   "encoding":{"x":{"field":"k","type":"quantitative"},"y":{"field":"P","type":"quantitative"},"y2":{"field":"PE"}}},
  {"data":{"name":"br_res"},"mark":{"type":"area","stroke":null,"fill":{"gradient":"linear","x1":0,"y1":0,"x2":0,"y2":1,"stops":[
   {"offset":0.0318,"color":"rgba(0,0,0,0)"},{"offset":0.0318,"color":"#000"},{"offset":0.0591,"color":"#000"},{"offset":0.0591,"color":"rgba(0,0,0,0)"},
   {"offset":0.1227,"color":"rgba(0,0,0,0)"},{"offset":0.1227,"color":"#000"},{"offset":0.15,"color":"#000"},{"offset":0.15,"color":"rgba(0,0,0,0)"},
   {"offset":0.2136,"color":"rgba(0,0,0,0)"},{"offset":0.2136,"color":"#000"},{"offset":0.2409,"color":"#000"},{"offset":0.2409,"color":"rgba(0,0,0,0)"},
   {"offset":0.3045,"color":"rgba(0,0,0,0)"},{"offset":0.3045,"color":"#000"},{"offset":0.3318,"color":"#000"},{"offset":0.3318,"color":"rgba(0,0,0,0)"},
   {"offset":0.3955,"color":"rgba(0,0,0,0)"},{"offset":0.3955,"color":"#000"},{"offset":0.4227,"color":"#000"},{"offset":0.4227,"color":"rgba(0,0,0,0)"},
   {"offset":0.4864,"color":"rgba(0,0,0,0)"},{"offset":0.4864,"color":"#000"},{"offset":0.5136,"color":"#000"},{"offset":0.5136,"color":"rgba(0,0,0,0)"},
   {"offset":0.5773,"color":"rgba(0,0,0,0)"},{"offset":0.5773,"color":"#000"},{"offset":0.6045,"color":"#000"},{"offset":0.6045,"color":"rgba(0,0,0,0)"},
   {"offset":0.6682,"color":"rgba(0,0,0,0)"},{"offset":0.6682,"color":"#000"},{"offset":0.6955,"color":"#000"},{"offset":0.6955,"color":"rgba(0,0,0,0)"},
   {"offset":0.7591,"color":"rgba(0,0,0,0)"},{"offset":0.7591,"color":"#000"},{"offset":0.7864,"color":"#000"},{"offset":0.7864,"color":"rgba(0,0,0,0)"},
   {"offset":0.85,"color":"rgba(0,0,0,0)"},{"offset":0.85,"color":"#000"},{"offset":0.8773,"color":"#000"},{"offset":0.8773,"color":"rgba(0,0,0,0)"},
   {"offset":0.9409,"color":"rgba(0,0,0,0)"},{"offset":0.9409,"color":"#000"},{"offset":0.9682,"color":"#000"},{"offset":0.9682,"color":"rgba(0,0,0,0)"}]}},
   "encoding":{"x":{"field":"k","type":"quantitative"},"y":{"field":"P","type":"quantitative"},"y2":{"field":"PE"}}},
  {"data":{"name":"br_imb"},"mark":{"type":"area","stroke":null,"fill":{"gradient":"linear","x1":0,"y1":0,"x2":1,"y2":0,"stops":[
   {"offset":0.0318,"color":"#fff"},{"offset":0.0318,"color":"#7f7f7f"},{"offset":0.0591,"color":"#7f7f7f"},{"offset":0.0591,"color":"#fff"},
   {"offset":0.1227,"color":"#fff"},{"offset":0.1227,"color":"#7f7f7f"},{"offset":0.15,"color":"#7f7f7f"},{"offset":0.15,"color":"#fff"},
   {"offset":0.2136,"color":"#fff"},{"offset":0.2136,"color":"#7f7f7f"},{"offset":0.2409,"color":"#7f7f7f"},{"offset":0.2409,"color":"#fff"},
   {"offset":0.3045,"color":"#fff"},{"offset":0.3045,"color":"#7f7f7f"},{"offset":0.3318,"color":"#7f7f7f"},{"offset":0.3318,"color":"#fff"},
   {"offset":0.3955,"color":"#fff"},{"offset":0.3955,"color":"#7f7f7f"},{"offset":0.4227,"color":"#7f7f7f"},{"offset":0.4227,"color":"#fff"},
   {"offset":0.4864,"color":"#fff"},{"offset":0.4864,"color":"#7f7f7f"},{"offset":0.5136,"color":"#7f7f7f"},{"offset":0.5136,"color":"#fff"},
   {"offset":0.5773,"color":"#fff"},{"offset":0.5773,"color":"#7f7f7f"},{"offset":0.6045,"color":"#7f7f7f"},{"offset":0.6045,"color":"#fff"},
   {"offset":0.6682,"color":"#fff"},{"offset":0.6682,"color":"#7f7f7f"},{"offset":0.6955,"color":"#7f7f7f"},{"offset":0.6955,"color":"#fff"},
   {"offset":0.7591,"color":"#fff"},{"offset":0.7591,"color":"#7f7f7f"},{"offset":0.7864,"color":"#7f7f7f"},{"offset":0.7864,"color":"#fff"},
   {"offset":0.85,"color":"#fff"},{"offset":0.85,"color":"#7f7f7f"},{"offset":0.8773,"color":"#7f7f7f"},{"offset":0.8773,"color":"#fff"},
   {"offset":0.9409,"color":"#fff"},{"offset":0.9409,"color":"#7f7f7f"},{"offset":0.9682,"color":"#7f7f7f"},{"offset":0.9682,"color":"#fff"}]}},
   "encoding":{"x":{"field":"k","type":"quantitative"},"y":{"field":"P","type":"quantitative"},"y2":{"field":"PE"}}},
  {"data":{"name":"br_pp"},"mark":{"type":"line","stroke":"#6e6e6e","strokeWidth":1},"encoding":{"x":{"field":"k","type":"quantitative"},"y":{"field":"P","type":"quantitative"}}},
  {"data":{"name":"br_pp"},"mark":{"type":"line","stroke":"#000","strokeWidth":1.4},"encoding":{"x":{"field":"k","type":"quantitative"},"y":{"field":"PE","type":"quantitative"}}},
  {"data":{"name":"edges_r"},"mark":{"type":"rule","stroke":"#000","strokeWidth":1},"encoding":{"x":{"field":"k","type":"quantitative"},"y":{"datum":151.0},"y2":{"datum":0}}},
  {"data":{"values":[{}]},"mark":{"type":"rule","stroke":"#000","strokeWidth":1},"encoding":{"x":{"datum":-1.011},"x2":{"datum":12.892},"y":{"datum":0}}},
  {"data":{"name":"ticks_b"},"mark":{"type":"rule","stroke":"#000","strokeWidth":1},"encoding":{"x":{"datum":-1.517},"x2":{"datum":-1.011},"y":{"field":"v","type":"quantitative"}}},
  {"data":{"name":"ticks_b"},"mark":{"type":"rule","stroke":"#000","strokeWidth":1},"encoding":{"x":{"datum":12.892},"x2":{"datum":13.31},"y":{"field":"v","type":"quantitative"}}},
  {"data":{"name":"months13"},"mark":{"type":"rule","stroke":"#000","strokeWidth":1},"encoding":{"x":{"field":"k","type":"quantitative"},"y":{"datum":0},"y2":{"datum":-2.94}}},
  {"data":{"name":"months13"},"mark":{"type":"text","align":"center","baseline":"middle","font":"Liberation Mono","fontSize":13,"fontWeight":"bold","fill":"#000"},"encoding":{"x":{"field":"k","type":"quantitative"},"y":{"datum":-10.18},"text":{"field":"lab"}}},
  {"data":{"values":[{}]},"mark":{"type":"rect","fillOpacity":0,"stroke":"#000","strokeWidth":1},"encoding":{"x":{"datum":-18.772},"x2":{"datum":-5.93},"y":{"datum":96.88},"y2":{"datum":38.06}}},
  {"data":{"values":[{}]},"mark":{"type":"rule","stroke":"#000","strokeWidth":1},"encoding":{"x":{"datum":-10.683},"y":{"datum":96.88},"y2":{"datum":38.06}}},
  {"data":{"values":[{"v":134.24}]},"mark":{"type":"rule","stroke":"#999","strokeWidth":1},"encoding":{"x":{"datum":-11.138},"x2":{"datum":-8.863},"y":{"field":"v","type":"quantitative"}}},
  {"data":{"values":[{"v":122.18}]},"mark":{"type":"rule","stroke":"#000","strokeWidth":1.4},"encoding":{"x":{"datum":-11.138},"x2":{"datum":-8.863},"y":{"field":"v","type":"quantitative"}}},
  {"data":{"values":[{"k":-17.937,"v":86.88}]},"mark":{"type":"point","shape":"M-1.3,-1L1.3,-1L1.3,1L-1.3,1Z","size":100,"filled":true,"opacity":1,"strokeWidth":0,"fill":{"gradient":"linear","x1":0,"y1":0,"x2":1,"y2":0,"stops":[
   {"offset":0.0417,"color":"#fff"},{"offset":0.0417,"color":"#8a8a8a"},{"offset":0.125,"color":"#8a8a8a"},{"offset":0.125,"color":"#fff"},
   {"offset":0.2083,"color":"#fff"},{"offset":0.2083,"color":"#8a8a8a"},{"offset":0.2917,"color":"#8a8a8a"},{"offset":0.2917,"color":"#fff"},
   {"offset":0.375,"color":"#fff"},{"offset":0.375,"color":"#8a8a8a"},{"offset":0.4583,"color":"#8a8a8a"},{"offset":0.4583,"color":"#fff"},
   {"offset":0.5417,"color":"#fff"},{"offset":0.5417,"color":"#8a8a8a"},{"offset":0.625,"color":"#8a8a8a"},{"offset":0.625,"color":"#fff"},
   {"offset":0.7083,"color":"#fff"},{"offset":0.7083,"color":"#8a8a8a"},{"offset":0.7917,"color":"#8a8a8a"},{"offset":0.7917,"color":"#fff"},
   {"offset":0.875,"color":"#fff"},{"offset":0.875,"color":"#8a8a8a"},{"offset":0.9583,"color":"#8a8a8a"},{"offset":0.9583,"color":"#fff"}]}},
   "encoding":{"x":{"field":"k","type":"quantitative"},"y":{"field":"v","type":"quantitative"}}},
  {"data":{"values":[{"k":-17.937,"v":74.24}]},"mark":{"type":"point","shape":"M-1.3,-1L1.3,-1L1.3,1L-1.3,1Z","size":100,"filled":true,"opacity":1,"strokeWidth":0,"fill":"#9a9a9a"},"encoding":{"x":{"field":"k","type":"quantitative"},"y":{"field":"v","type":"quantitative"}}},
  {"data":{"values":[{"k":-17.937,"v":61.59}]},"mark":{"type":"point","shape":"M-1.3,-1L1.3,-1L1.3,1L-1.3,1Z","size":100,"filled":true,"opacity":1,"strokeWidth":0,"fill":{"gradient":"linear","x1":0,"y1":0,"x2":1,"y2":0,"stops":[
   {"offset":0.075,"color":"#fff"},{"offset":0.075,"color":"#000"},{"offset":0.175,"color":"#000"},{"offset":0.175,"color":"#fff"},
   {"offset":0.325,"color":"#fff"},{"offset":0.325,"color":"#000"},{"offset":0.425,"color":"#000"},{"offset":0.425,"color":"#fff"},
   {"offset":0.575,"color":"#fff"},{"offset":0.575,"color":"#000"},{"offset":0.675,"color":"#000"},{"offset":0.675,"color":"#fff"},
   {"offset":0.825,"color":"#fff"},{"offset":0.825,"color":"#000"},{"offset":0.925,"color":"#000"},{"offset":0.925,"color":"#fff"}]}},
   "encoding":{"x":{"field":"k","type":"quantitative"},"y":{"field":"v","type":"quantitative"}}},
  {"data":{"values":[{"k":-17.937,"v":61.59}]},"mark":{"type":"point","shape":"M-1.3,-1L1.3,-1L1.3,1L-1.3,1Z","size":100,"filled":true,"opacity":1,"strokeWidth":0,"fill":{"gradient":"linear","x1":0,"y1":0,"x2":0,"y2":1,"stops":[
   {"offset":0.075,"color":"rgba(0,0,0,0)"},{"offset":0.075,"color":"#000"},{"offset":0.175,"color":"#000"},{"offset":0.175,"color":"rgba(0,0,0,0)"},
   {"offset":0.325,"color":"rgba(0,0,0,0)"},{"offset":0.325,"color":"#000"},{"offset":0.425,"color":"#000"},{"offset":0.425,"color":"rgba(0,0,0,0)"},
   {"offset":0.575,"color":"rgba(0,0,0,0)"},{"offset":0.575,"color":"#000"},{"offset":0.675,"color":"#000"},{"offset":0.675,"color":"rgba(0,0,0,0)"},
   {"offset":0.825,"color":"rgba(0,0,0,0)"},{"offset":0.825,"color":"#000"},{"offset":0.925,"color":"#000"},{"offset":0.925,"color":"rgba(0,0,0,0)"}]}},
   "encoding":{"x":{"field":"k","type":"quantitative"},"y":{"field":"v","type":"quantitative"}}},
  {"data":{"values":[{"k":-17.937,"v":48.65}]},"mark":{"type":"point","shape":"M-1.3,-1L1.3,-1L1.3,1L-1.3,1Z","size":100,"filled":true,"opacity":1,"fill":"#fff","stroke":"#000","strokeWidth":1},"encoding":{"x":{"field":"k","type":"quantitative"},"y":{"field":"v","type":"quantitative"}}},
  {"data":{"name":"br_text"},"mark":{"type":"text","align":"left","baseline":"middle","font":"Liberation Mono","fontSize":16,"fill":"#000"},"encoding":{"x":{"field":"k","type":"quantitative"},"y":{"field":"v","type":"quantitative"},"text":{"field":"t"}}},
  {"data":{"name":"br_dates"},"mark":{"type":"text","align":"right","baseline":"middle","font":"Liberation Mono","fontSize":16,"fill":"#000"},"encoding":{"x":{"field":"k","type":"quantitative"},"y":{"field":"v","type":"quantitative"},"text":{"field":"t"}}},
  {"data":{"values":[{"k":-7.649,"v":217.47,"t":"Montemonaco"}]},"mark":{"type":"text","align":"left","baseline":"middle","font":"Liberation Sans","fontSize":15,"fontWeight":"bold","fill":"#000"},"encoding":{"x":{"field":"k","type":"quantitative"},"y":{"field":"v","type":"quantitative"},"text":{"field":"t"}}}
 ]}
], "spacing": 0}
]
}
